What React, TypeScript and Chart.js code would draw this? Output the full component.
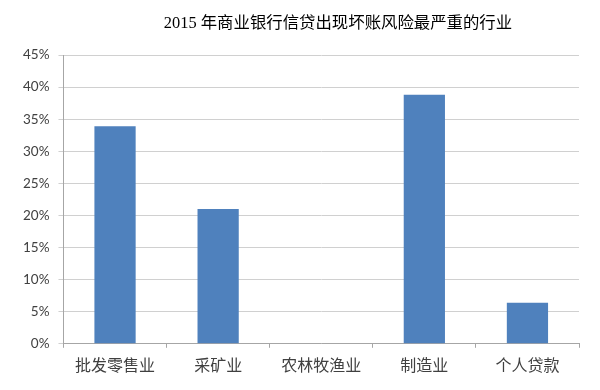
import React, { useEffect, useRef } from "react";
import { Chart, registerables } from "chart.js";

Chart.register(...registerables);

const titleText = "2015 年商业银行信贷出现坏账风险最严重的行业";
const categories = ["批发零售业", "采矿业", "农林牧渔业", "制造业", "个人贷款"];
const values = [33.9, 21.0, 0, 38.8, 6.4];
const yTicks = [0, 5, 10, 15, 20, 25, 30, 35, 40, 45];

const titlePlugin = {
  id: "customTitle",
  afterDraw(chart: any) {
    const ctx = chart.ctx;
    ctx.save();
    ctx.font = '16.4px "Liberation Serif", "Noto Sans CJK SC", serif';
    ctx.fillStyle = "#000000";
    ctx.textAlign = "center";
    ctx.textBaseline = "middle";
    ctx.fillText(titleText, 338, 24);
    ctx.restore();
  },
};

export default function App() {
  const ref = useRef<HTMLCanvasElement | null>(null);
  useEffect(() => {
    if (!ref.current) return;
    const chart = new Chart(ref.current, {
      type: "bar",
      data: {
        labels: categories,
        datasets: [
          {
            data: values,
            backgroundColor: "#4f81bd",
            borderWidth: 0,
            barPercentage: 0.4,
            categoryPercentage: 1,
          },
        ],
      },
      options: {
        responsive: false,
        animation: false,
        layout: { padding: { top: 55, right: 21, bottom: 7, left: 14 } },
        plugins: { legend: { display: false }, title: { display: false }, tooltip: { enabled: false } },
        scales: {
          x: {
            grid: { drawOnChartArea: false, drawTicks: true, tickLength: 4, color: "#a6a6a6", offset: true },
            border: { color: "#a6a6a6" },
            ticks: {
              padding: 8,
              color: "#404040",
              font: { size: 16, family: '"Noto Sans CJK SC", sans-serif' },
            },
          },
          y: {
            min: 0,
            max: 45,
            afterBuildTicks(axis: any) {
              axis.ticks = yTicks.map((v) => ({ value: v }));
            },
            grid: { color: "#d0d0d0", tickLength: 5 },
            border: { color: "#a6a6a6" },
            ticks: {
              padding: 9,
              color: "#404040",
              font: { size: 13.5, family: "Lato, sans-serif" },
              callback: (v: any) => v + "%",
            },
          },
        },
      },
      plugins: [titlePlugin],
    });
    return () => chart.destroy();
  }, []);
  return (
    <div style={{ position: "absolute", left: 0, top: 0, width: 600, height: 390, background: "#fff" }}>
      <canvas ref={ref} width={600} height={390} />
    </div>
  );
}
